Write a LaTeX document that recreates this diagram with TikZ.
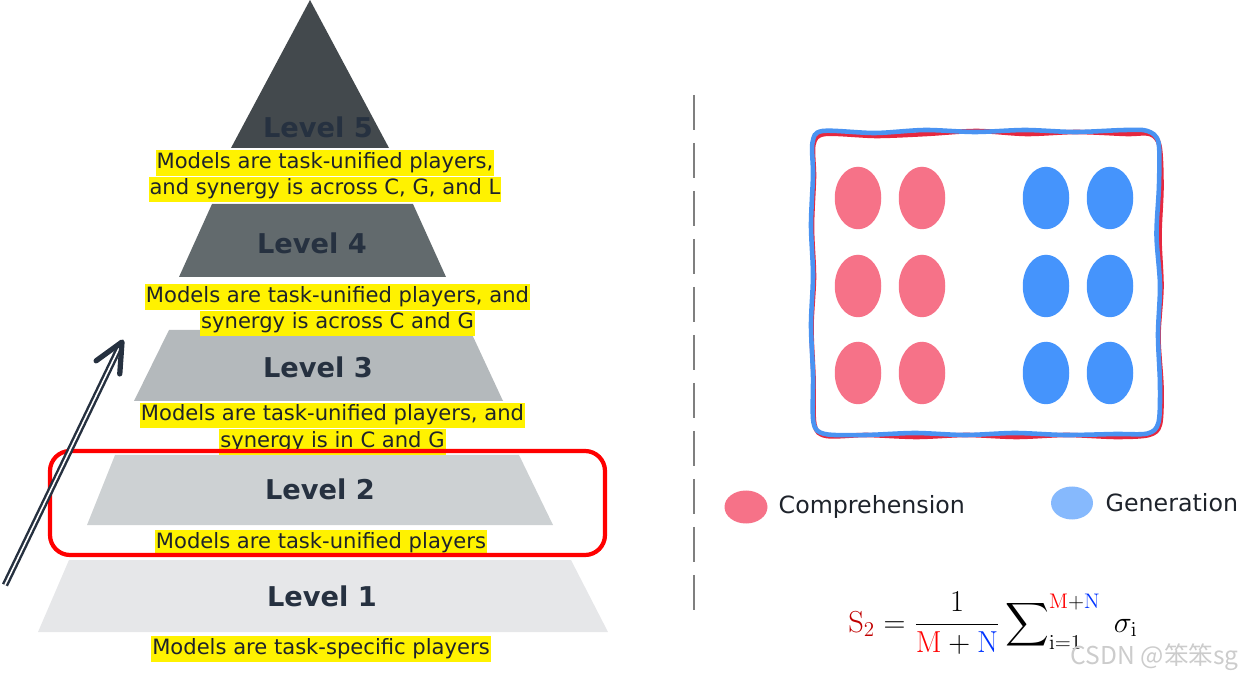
\documentclass[tikz,border=0pt]{standalone}
\usepackage{amsmath}
\usepackage[no-math]{fontspec}
\setmainfont{DejaVu Sans}
\newfontfamily\cjkfont{Noto Sans CJK SC}
\usepackage{xcolor}
\usetikzlibrary{arrows.meta,positioning,shapes.geometric,calc}

\definecolor{lvlfive}{HTML}{43494D}
\definecolor{lvlfour}{HTML}{626A6D}
\definecolor{lvlthree}{HTML}{B4B9BC}
\definecolor{lvltwo}{HTML}{CDD1D3}
\definecolor{lvlone}{HTML}{E6E7E9}
\definecolor{navy}{HTML}{263140}
\definecolor{ink}{HTML}{1E232B}
\definecolor{compink}{HTML}{F67288}
\definecolor{genblue}{HTML}{4594FC}
\definecolor{genlight}{HTML}{86B9FD}
\definecolor{boardblue}{HTML}{4A93F2}
\definecolor{boardred}{HTML}{E6283F}
\definecolor{divgray}{HTML}{7F7F7F}
\definecolor{sred}{HTML}{C00000}
\definecolor{mred}{HTML}{FF0000}
\definecolor{nblue}{HTML}{0033FF}

\begin{document}
\begin{tikzpicture}[
    level/.style={font=\fontsize{15.5}{18}\selectfont\bfseries, text=navy},
    hl/.style={fill=yellow, text=ink, inner xsep=0.5pt, inner ysep=0pt, text height=10.4pt, text depth=4.3pt, font=\fontsize{12}{14}\selectfont},
    focus/.style={rectangle, draw=mred, line width=2.4pt, rounded corners=0.4cm, minimum width=11.1cm, minimum height=2.08cm},
    comp/.style={ellipse, fill=compink, minimum width=0.93cm, minimum height=1.25cm, inner sep=0pt},
    gen/.style={ellipse, fill=genblue, minimum width=0.93cm, minimum height=1.25cm, inner sep=0pt},
    legtext/.style={inner sep=0pt, font=\fontsize{13.5}{16}\selectfont, text=ink},
    boardline/.style={draw=boardblue, line width=2.6pt},
    divider/.style={draw=divgray, line width=1.7pt, dash pattern=on 0.7cm off 0.26cm},
    rise/.style={draw=navy, line width=1.4pt, double=white, double distance=0.9pt},
    risetip/.style={draw=navy, line width=3pt, line cap=round, line join=round},
    watermark/.style={inner sep=0pt, text=gray!40, font=\cjkfont\fontsize{14}{16}\selectfont}
    ]
    \useasboundingbox (0,0) rectangle (24.84,13.5);

    % pyramid
    \fill[lvlfive] (4.62,10.54) -- (6.2,13.5) -- (7.78,10.54) -- cycle;
    \fill[lvlfour] (3.58,7.96) -- (4.24,9.42) -- (8.26,9.42) -- (8.92,7.96) -- cycle;
    \fill[lvlthree] (2.68,5.48) -- (3.38,6.9) -- (9.4,6.9) -- (10.06,5.48) -- cycle;
    \fill[lvltwo] (1.74,3.0) -- (2.3,4.4) -- (10.38,4.4) -- (11.06,3.0) -- cycle;
    \fill[lvlone] (0.76,0.86) -- (1.38,2.3) -- (11.42,2.3) -- (12.16,0.86) -- cycle;

    \node[level] (lab5) at (6.36,10.96) {Level 5};
    \node[level] (lab4) at (6.24,8.64) {Level 4};
    \node[level] (lab3) at (6.36,6.16) {Level 3};
    \node[level] (lab2) at (6.4,3.72) {Level 2};
    \node[level] (lab1) at (6.44,1.58) {Level 1};

    \node[hl] (d5a) at (6.5,10.24) {Models are task-unified players,~};
    \node[hl, below=0pt of d5a] (d5b) {and synergy is across C, G, and L};
    \node[hl] (d4a) at (6.75,7.56) {Models are task-unified players, and~};
    \node[hl, below=0pt of d4a] (d4b) {synergy is across C and G};
    \node[hl] (d3a) at (6.65,5.19) {Models are task-unified players, and~};
    \node[hl, below=0pt of d3a] (d3b) {synergy is in C and G};
    \node[hl] (d2) at (6.42,2.64) {Models are task-unified players};
    \node[hl] (d1) at (6.42,0.52) {Models are task-specific players};

    \node[focus] (focus) at (6.55,3.44) {};

    % rising arrow
    \coordinate (risebot) at (0.1,1.8);
    \coordinate (risetop) at (2.44,6.66);
    \draw[rise, shorten >=1.5pt] (risebot) -- (risetop);
    \draw[risetip] ($(risetop)+(216:0.64)$) -- (risetop) -- ($(risetop)+(266:0.64)$);

    % divider
    \coordinate (divtop) at (13.88,11.6);
    \coordinate (divbot) at (13.88,1.16);
    \draw[divider] (divtop) -- (divbot);

    % tokens
    \draw[boardline, draw=boardred, shift={(0.03,-0.04)}] plot[smooth cycle, tension=0.5] coordinates {
      (16.47,10.86) (17.5,10.82) (18.5,10.86) (19.5,10.92) (20.5,10.86) (21.5,10.9) (22.5,10.86) (22.97,10.86)
      (23.16,10.62) (23.2,9.8) (23.16,8.8) (23.2,7.8) (23.14,6.8) (23.2,5.8) (23.17,5.05)
      (22.95,4.84) (22.3,4.8) (21.3,4.84) (20.3,4.8) (19.3,4.84) (18.3,4.8) (17.3,4.84) (16.5,4.82)
      (16.26,5.05) (16.24,6) (16.2,7) (16.25,8) (16.21,9) (16.25,10) (16.24,10.65)};
    \draw[boardline] plot[smooth cycle, tension=0.5] coordinates {
      (16.45,10.88) (17.5,10.84) (18.5,10.9) (19.5,10.86) (20.5,10.9) (21.5,10.86) (22.5,10.9) (22.95,10.88)
      (23.17,10.65) (23.18,9.8) (23.13,8.8) (23.2,7.8) (23.16,6.8) (23.2,5.8) (23.17,5.05)
      (22.95,4.83) (22.3,4.82) (21.3,4.8) (20.3,4.84) (19.3,4.8) (18.3,4.84) (17.3,4.8) (16.5,4.82)
      (16.27,5.05) (16.26,6) (16.22,7) (16.26,8) (16.22,9) (16.26,10) (16.25,10.65)};
    \node[comp] (c1) at (17.16,9.54) {};
    \node[comp] (c2) at (18.44,9.54) {};
    \node[comp] (c3) at (17.16,7.78) {};
    \node[comp] (c4) at (18.44,7.78) {};
    \node[comp] (c5) at (17.16,6.04) {};
    \node[comp] (c6) at (18.44,6.04) {};
    \node[gen] (g1) at (20.92,9.54) {};
    \node[gen] (g2) at (22.2,9.54) {};
    \node[gen] (g3) at (20.92,7.78) {};
    \node[gen] (g4) at (22.2,7.78) {};
    \node[gen] (g5) at (20.92,6.04) {};
    \node[gen] (g6) at (22.2,6.04) {};

    % legend
    \node[comp, minimum width=0.86cm, minimum height=0.66cm] (legc) at (14.92,3.36) {};
    \node[legtext, right=0.21cm of legc] (legctext) {Comprehension};
    \node[gen, fill=genlight, minimum width=0.84cm, minimum height=0.66cm] (legg) at (21.44,3.44) {};
    \node[legtext, right=0.24cm of legg] (leggtext) {Generation};

    \node[inner sep=0pt, anchor=base west, font=\fontsize{17.5}{21}\selectfont] (score) at (16.96,0.86)
      {$\displaystyle \textcolor{sred}{\mathrm{S}_2} = \frac{1}{\textcolor{mred}{\mathrm{M}}+\textcolor{nblue}{\mathrm{N}}}\sum\nolimits_{\mathrm{i}=1}^{\textcolor{mred}{\mathrm{M}}+\textcolor{nblue}{\mathrm{N}}}\;\sigma_{\mathrm{i}}$};

    \node[watermark, anchor=east] (wm) at (24.78,0.36) {CSDN @笨笨sg};
  \end{tikzpicture}
\end{document}
